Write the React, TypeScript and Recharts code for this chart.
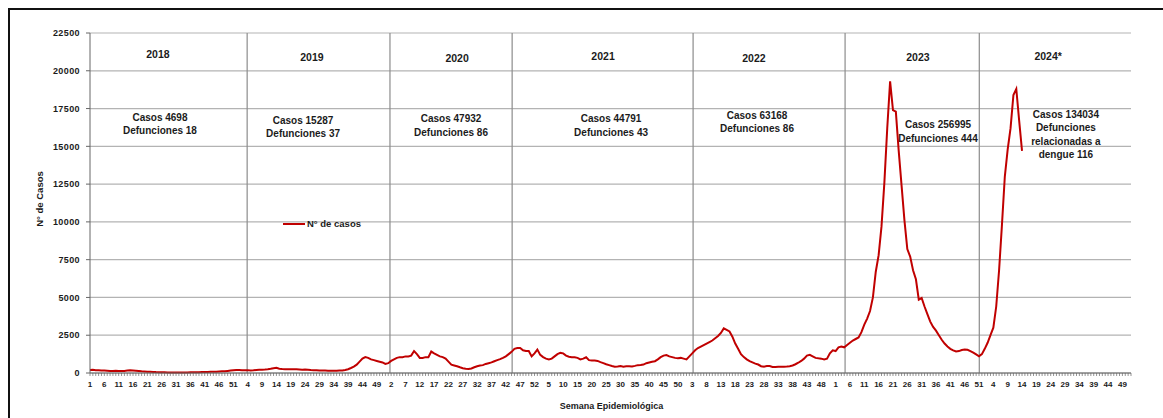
import { LineChart, Line, XAxis, YAxis, CartesianGrid, ReferenceLine, ReferenceDot, Legend } from 'recharts'

const weeksPerYear = 52
const totalWeeks = 364

// casos semanales por año
const cases2018 = [
  200, 210, 190, 180, 170, 160, 150, 140, 130, 150,
  140, 130, 140, 160, 180, 170, 150, 130, 110, 100,
  90, 80, 70, 60, 55, 50, 45, 40, 40, 40,
  35, 35, 35, 40, 40, 45, 45, 50, 55, 60,
  65, 70, 75, 80, 90, 100, 110, 120, 140, 160,
  180, 200,
]
const cases2019 = [
  200, 190, 180, 190, 170, 180, 200, 210, 220, 230,
  250, 280, 320, 340, 280, 260, 250, 240, 240, 250,
  240, 230, 220, 230, 220, 200, 190, 180, 170, 160,
  160, 150, 150, 150, 150, 160, 170, 200, 250, 330,
  420, 550, 750, 950, 1050, 1000, 900, 850, 800, 750,
  700, 600,
]
const cases2020 = [
  650, 800, 900, 1000, 1050, 1050, 1100, 1100, 1150, 1450,
  1250, 1000, 1000, 1050, 1050, 1420, 1300, 1200, 1100, 1050,
  950, 750, 550, 500, 450, 380, 320, 280, 260, 300,
  380, 450, 500, 520, 600, 650, 700, 780, 850, 920,
  1000, 1100, 1250, 1400, 1600, 1650, 1650, 1500, 1450, 1450,
  1100, 1300,
]
const cases2021 = [
  1550, 1200, 1050, 950, 900, 950, 1100, 1250, 1330, 1300,
  1150, 1080, 1050, 1040, 1000, 900, 950, 1040, 850, 820,
  820, 800, 720, 650, 580, 520, 460, 420, 430, 460,
  420, 440, 450, 430, 470, 520, 530, 560, 650, 700,
  750, 780, 900, 1050, 1150, 1190, 1100, 1050, 1000, 970,
  1000, 950,
]
const cases2022 = [
  900, 1100, 1300, 1500, 1650, 1750, 1850, 1950, 2050, 2150,
  2300, 2450, 2650, 2950, 2850, 2750, 2400, 1950, 1600, 1250,
  1050, 900, 780, 700, 620, 560, 450, 420, 460, 460,
  400, 400, 420, 420, 420, 430, 450, 500, 580, 680,
  800, 950, 1150, 1200, 1100, 1000, 970, 950, 900, 950,
  1300, 1500,
]
const cases2023 = [
  1450, 1700, 1750, 1700, 1850, 2000, 2150, 2250, 2350, 2700,
  3200, 3600, 4100, 5000, 6700, 7800, 9700, 12600, 16200, 19300,
  17400, 17300, 14700, 12400, 10100, 8200, 7700, 6800, 6200, 4850,
  4960, 4400, 3900, 3400, 3050, 2800, 2500, 2200, 1950, 1750,
  1600, 1500, 1420, 1450, 1520, 1550, 1540, 1450, 1350, 1230,
  1100, 1250,
]
const cases2024 = [
  1600, 2000, 2500, 3000, 4400, 6800, 9800, 13000, 14800, 16200,
  18400, 18800, 16700, 14700,
]

const yTicks = [0, 2500, 5000, 7500, 10000, 12500, 15000, 17500, 20000, 22500]

// separadores de año (en semanas desde el inicio del eje)
const yearDividers = [54.8, 104.6, 147.2, 210.3, 263.3, 310.1]

const yearNames = ['2018', '2019', '2020', '2021', '2022', '2023', '2024*']
const yearNameX = [23.7, 77.4, 128.0, 178.9, 231.5, 288.7, 334.1]
const yearNameY = [20850, 20650, 20580, 20710, 20580, 20650, 20710]

const summaryLines = [
  ['Casos 4698', 'Defunciones 18'],
  ['Casos 15287', 'Defunciones 37'],
  ['Casos 47932', 'Defunciones 86'],
  ['Casos 44791', 'Defunciones 43'],
  ['Casos 63168', 'Defunciones 86'],
  ['Casos 256995', 'Defunciones 444'],
  ['Casos 134034', 'Defunciones', 'relacionadas a', 'dengue 116'],
]
const summaryX = [24.4, 74.3, 125.9, 181.7, 232.6, 295.7, 340.3]
const summaryY = [16680, 16480, 16610, 16610, 16810, 16210, 16880]

const allCases = [cases2018, cases2019, cases2020, cases2021, cases2022, cases2023, cases2024]

const data = Array.from({ length: totalWeeks }, (_, i) => {
  const yr = Math.floor(i / weeksPerYear)
  const v = allCases[yr][i % weeksPerYear]
  return { i, week: (i % weeksPerYear) + 1, casos: v === undefined ? null : v }
})

const xTicks = data.map(d => d.i)

const FONT = '"Liberation Sans", Arial, sans-serif'
const INK = '#1b1b1b'
const RED = '#C00000'

function XTick(props: any) {
  const { x, y, payload } = props
  const i = payload.value
  return (
    <g>
      <line x1={x} x2={x} y1={y} y2={y + 3} stroke="#666" strokeWidth={0.7} />
      {i % 5 === 0 && (
        <text x={x} y={y + 14} textAnchor="middle" fontSize={8} fontWeight="bold" fill={INK} fontFamily={FONT}>
          {data[i].week}
        </text>
      )}
    </g>
  )
}

function linesLabel(lines: string[], size: number, gap: number) {
  return (props: any) => {
    const vb = props.viewBox || {}
    const cx = vb.x + (vb.width || 0) / 2
    const cy = vb.y + (vb.height || 0) / 2
    return (
      <text x={cx} y={cy} textAnchor="middle" fontSize={size} fontWeight="bold" fill={INK} fontFamily={FONT}>
        {lines.map((l, k) => (
          <tspan key={k} x={cx} dy={k === 0 ? 0 : gap}>{l}</tspan>
        ))}
      </text>
    )
  }
}

function YTitle(props: any) {
  const vb = props.viewBox || {}
  const cx = 43
  const cy = vb.y + vb.height / 2 - 4
  return (
    <text x={cx} y={cy} transform={`rotate(-90, ${cx}, ${cy})`} textAnchor="middle" fontSize={9.5} fontWeight="bold" fill={INK} fontFamily={FONT}>
      N° de Casos
    </text>
  )
}

function LegendBox() {
  return (
    <div style={{ display: 'flex', alignItems: 'center', fontFamily: FONT, fontSize: 9.5, fontWeight: 'bold', color: INK }}>
      <span style={{ display: 'inline-block', width: 22, height: 2, background: RED, marginRight: 2 }} />
      N° de casos
    </div>
  )
}

export default function App() {
  return (
    <div style={{ position: 'absolute', left: 0, top: 0, width: 1163, height: 418, background: '#fff' }}>
      <div style={{ position: 'absolute', left: 8, top: 8, right: 0, bottom: 0, borderTop: '2px solid #111', borderLeft: '2px solid #111' }} />
      <LineChart width={1163} height={418} data={data} margin={{ top: 33, right: 32, left: 0, bottom: 0 }} style={{ position: 'absolute', left: 0, top: 0 }}>
        <CartesianGrid vertical={false} stroke="#b3b3b3" strokeWidth={1.2} />
        <XAxis
          dataKey="i"
          type="number"
          domain={[0, totalWeeks - 1]}
          ticks={xTicks}
          interval={0}
          tick={<XTick />}
          tickLine={false}
          tickSize={0}
          tickMargin={0}
          height={45}
          stroke="#666"
          label={{ value: 'Semana Epidemiológica', position: 'insideBottom', offset: 9, fontSize: 9, fontWeight: 'bold', fill: INK, fontFamily: FONT, dx: 1 }}
        />
        <YAxis
          domain={[0, 22500]}
          ticks={yTicks}
          width={90}
          tickSize={4}
          tickMargin={6}
          stroke="#666"
          interval={0}
          tick={{ fontSize: 9, fontWeight: 'bold', fill: INK, fontFamily: FONT, letterSpacing: 0.4 }}
          label={{ content: YTitle }}
        />
        {yearDividers.map((x, k) => (
          <ReferenceLine key={'d' + k} x={x} stroke="#8c8c8c" strokeWidth={1.2} />
        ))}
        {yearNames.map((n, k) => (
          <ReferenceDot key={'y' + k} x={yearNameX[k]} y={yearNameY[k]} r={0} fill="none" stroke="none" label={linesLabel([n], 10.5, 0)} />
        ))}
        {summaryLines.map((ls, k) => (
          <ReferenceDot key={'s' + k} x={summaryX[k]} y={summaryY[k]} r={0} fill="none" stroke="none" label={linesLabel(ls, 10, 13.5)} />
        ))}
        <Legend
          layout="vertical"
          align="center"
          verticalAlign="middle"
          content={() => <LegendBox />}
          wrapperStyle={{ position: 'absolute', left: 283, top: 218, width: 'auto' }}
        />
        <Line
          type="linear"
          dataKey="casos"
          name="N° de casos"
          stroke={RED}
          strokeWidth={2}
          dot={false}
          isAnimationActive={false}
        />
      </LineChart>
    </div>
  )
}
